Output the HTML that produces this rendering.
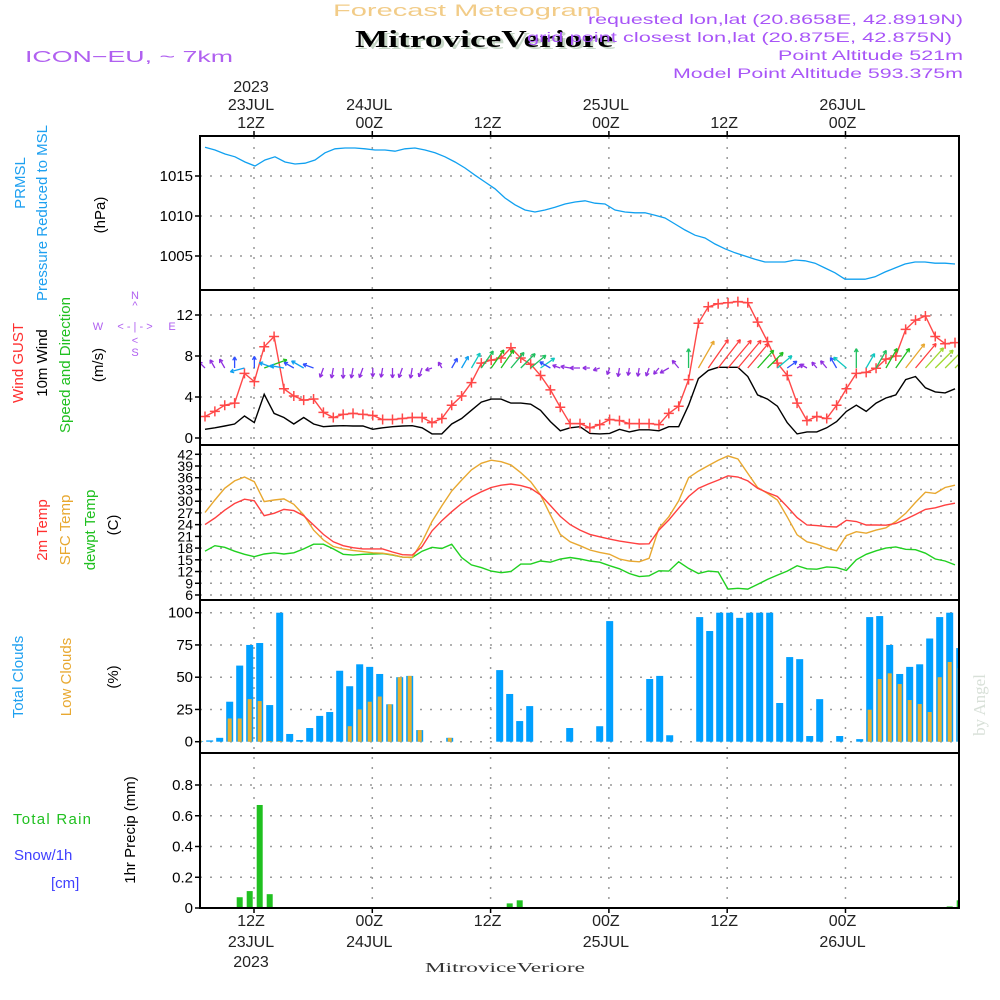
<!DOCTYPE html>
<html><head><meta charset="utf-8"><style>
html,body{margin:0;padding:0;background:#fff;}
svg{display:block;font-family:"Liberation Sans",sans-serif;}
</style></head><body>
<svg id="chart" width="1000" height="1000" viewBox="0 0 1000 1000" xmlns="http://www.w3.org/2000/svg">
<rect width="1000" height="1000" fill="#fff"/>
<text x="333" y="16" font-size="17" fill="#f2cc88" textLength="268" lengthAdjust="spacingAndGlyphs">Forecast Meteogram</text>
<text x="358" y="49" font-size="24" font-weight="bold" font-family="Liberation Serif,serif" fill="#c8d8c8" textLength="258" lengthAdjust="spacingAndGlyphs">MitroviceVeriore</text>
<text x="355" y="47" font-size="24" font-weight="bold" font-family="Liberation Serif,serif" fill="#000" textLength="258" lengthAdjust="spacingAndGlyphs">MitroviceVeriore</text>
<text x="25" y="62" font-size="16" fill="#b060f0" textLength="208" lengthAdjust="spacingAndGlyphs">ICON−EU, ~ 7km</text>
<g fill="#a855f7" font-size="14" text-anchor="end">
<text x="963" y="24" textLength="375" lengthAdjust="spacingAndGlyphs">requested lon,lat (20.8658E, 42.8919N)</text>
<text x="952" y="42" textLength="425" lengthAdjust="spacingAndGlyphs">grid point closest lon,lat (20.875E, 42.875N)</text>
<text x="963" y="60" textLength="185" lengthAdjust="spacingAndGlyphs">Point Altitude 521m</text>
<text x="963" y="78" textLength="290" lengthAdjust="spacingAndGlyphs">Model Point Altitude 593.375m</text>
</g>
<g id="grid"></g>
<g id="marks"></g>
<g id="frames" fill="none" stroke="#000" stroke-width="2">
<rect x="200" y="136" width="759" height="154"/>
<rect x="200" y="290" width="759" height="155"/>
<rect x="200" y="445" width="759" height="155"/>
<rect x="200" y="600" width="759" height="153"/>
<rect x="200" y="753" width="759" height="155"/>
</g>
<g id="axes" font-size="15" fill="#000"></g>
<g font-size="15">
<text transform="translate(25,183) rotate(-90)" text-anchor="middle" fill="#1ea0f0">PRMSL</text>
<text transform="translate(47,213) rotate(-90)" text-anchor="middle" fill="#1ea0f0">Pressure Reduced to MSL</text>
<text transform="translate(105,215) rotate(-90)" text-anchor="middle" fill="#000">(hPa)</text>
<text transform="translate(23,363) rotate(-90)" text-anchor="middle" fill="#ff3030">Wind GUST</text>
<text transform="translate(47,363) rotate(-90)" text-anchor="middle" fill="#000">10m Wind</text>
<text transform="translate(70,365) rotate(-90)" text-anchor="middle" fill="#20c020">Speed and Direction</text>
<text transform="translate(103,365) rotate(-90)" text-anchor="middle" fill="#000">(m/s)</text>
<text transform="translate(47,530) rotate(-90)" text-anchor="middle" fill="#ff3030">2m Temp</text>
<text transform="translate(70,530) rotate(-90)" text-anchor="middle" fill="#e8a830">SFC Temp</text>
<text transform="translate(95,530) rotate(-90)" text-anchor="middle" fill="#20c020">dewpt Temp</text>
<text transform="translate(118,525) rotate(-90)" text-anchor="middle" fill="#000">(C)</text>
<text transform="translate(23,677) rotate(-90)" text-anchor="middle" fill="#1ea0f0">Total Clouds</text>
<text transform="translate(71,677) rotate(-90)" text-anchor="middle" fill="#e8a830">Low Clouds</text>
<text transform="translate(118,677) rotate(-90)" text-anchor="middle" fill="#000">(%)</text>
<text x="13" y="824" fill="#20c020" textLength="78" lengthAdjust="spacing">Total  Rain</text>
<text x="14" y="860" fill="#4040ff">Snow/1h</text>
<text x="51" y="888" fill="#4040ff">[cm]</text>
<text transform="translate(135,830) rotate(-90)" text-anchor="middle" fill="#000">1hr Precip (mm)</text>
</g>
<g fill="#b060f0" font-size="11" text-anchor="middle">
<text x="135" y="299">N</text><text x="135" y="309">^</text>
<text x="135" y="330">&lt; - | - &gt;</text>
<text x="98" y="330">W</text><text x="172" y="330">E</text>
<text x="135" y="344">&lt;</text><text x="135" y="356">S</text>
</g>
<text transform="translate(985,705) rotate(-90)" text-anchor="middle" font-size="17" font-family="Liberation Serif,serif" fill="#d8e0d8">by Angel</text>
<text x="505" y="972" text-anchor="middle" font-size="14" font-family="Liberation Serif,serif" fill="#333" textLength="160" lengthAdjust="spacingAndGlyphs">MitroviceVeriore</text>
</svg>
<script>
const tickHours=[12,24,36,48,60,72];
const tickTop=[["2023","23JUL","12Z"],["","24JUL","00Z"],["","","12Z"],["","25JUL","00Z"],["","","12Z"],["","26JUL","00Z"]];
const tickBottom=[["12Z","23JUL","2023"],["00Z","24JUL",""],["12Z","",""],["00Z","25JUL",""],["12Z","",""],["00Z","26JUL",""]];
const pressure=[1018.6,1018.25,1017.75,1017.4,1016.75,1016.25,1017,1017.4,1016.75,1016.5,1016.6,1017,1017.9,1018.4,1018.5,1018.5,1018.4,1018.25,1018.25,1018.1,1018.4,1018.5,1018.25,1017.9,1017.4,1016.75,1016,1015.1,1014.25,1013.4,1012.25,1011.4,1010.75,1010.5,1010.75,1011.1,1011.5,1011.75,1011.9,1011.6,1011.5,1010.75,1010.5,1010.4,1010.4,1010.1,1009.75,1009,1008.25,1007.6,1007.25,1006.5,1005.9,1005.4,1005,1004.6,1004.25,1004.25,1004.25,1004.5,1004.4,1004.1,1003.5,1002.9,1002.1,1002.1,1002.1,1002.4,1003,1003.5,1004,1004.25,1004.25,1004.1,1004.1,1004];
const pressureTicks=[1005,1010,1015];
const gust=[2.1,2.6,3.2,3.4,6.3,5.5,8.9,9.9,4.8,4.1,3.7,3.8,2.5,2.0,2.3,2.4,2.3,2.2,1.8,1.8,1.9,2.0,2.0,1.5,1.9,3.2,4.1,5.4,7.3,7.6,7.8,8.8,7.8,7.2,6.1,4.7,3.0,1.4,1.4,1.0,1.3,1.8,1.7,1.4,1.4,1.4,1.3,2.4,3.1,5.7,11.2,12.8,13.1,13.2,13.3,13.2,11.3,9.4,7.3,6.1,3.4,1.7,2.1,1.9,3.2,4.8,6.3,6.4,6.8,7.7,8.0,10.6,11.5,11.9,9.9,9.2,9.3];
const wind=[0.85,1.0,1.17,1.37,2.15,1.5,4.26,2.4,2.0,1.37,2.0,1.37,1.1,1.17,1.2,1.17,1.17,0.85,1.0,1.1,1.17,1.2,1.0,0.4,0.4,1.37,1.9,2.7,3.5,3.8,3.8,3.4,3.4,3.3,2.7,1.6,0.7,1.0,1.1,0.45,0.4,0.45,0.85,0.6,0.8,0.8,0.7,1.1,1.1,3.2,5.8,6.6,6.9,6.9,6.9,6.0,4.2,3.8,3.1,1.5,0.4,0.6,0.6,1.0,1.6,2.6,3.2,2.6,3.4,3.9,4.2,5.7,6.0,4.9,4.5,4.4,4.8];
const windDirTo=[315,330,330,0,255,0,70,290,280,300,300,290,200,190,180,190,200,180,190,180,200,190,200,250,330,30,30,30,35,35,35,40,45,50,55,300,290,280,270,270,250,200,190,190,190,200,220,240,320,0,30,35,38,40,40,40,42,45,50,55,60,300,320,320,330,310,0,30,30,30,35,38,40,42,45,45,45];
const windTicks=[0,4,8,12];
const temp2m=[24,25.7,27.7,29.4,30.5,30.1,26.3,26.9,27.9,27.6,26.3,23.9,21.5,19.6,18.6,18.1,17.8,17.8,17.8,17.0,16.3,16.2,18.4,22.4,25,27.3,29.4,31.1,32.4,33.5,34.1,34.4,34,33.3,31.6,28.9,26.1,24,22.6,21.5,20.9,20.3,19.8,19.4,19.05,19.1,22.6,25.2,28.2,31.2,33.3,34.4,35.4,36.5,36.2,35.2,33.3,32.2,31.2,28.6,25.8,23.9,23.75,23.5,23.4,25.1,24.8,23.9,23.9,23.85,24.3,25.4,26.6,27.9,28.3,29,29.5];
const tempSfc=[27.1,30.3,33.3,35.2,36.2,35,29.9,30.3,30.6,29.2,26.5,22.6,20.1,18.4,17.8,17.4,17.1,16.8,16.7,16.3,15.7,15.6,19.6,24.8,28.8,32.6,35.4,38,39.7,40.5,40.1,39.3,37.3,35,31.6,26.5,21.5,19.6,18.6,17.5,16.9,16.4,15.2,14.7,14.5,15.4,23.1,26,30.1,36,37.7,39.1,40.5,41.6,40.8,37.1,33.5,32,30.3,26,21.4,19.6,19,18,17.3,21.2,22.2,21.8,22.6,23.2,24.8,26.9,29.7,32.3,32,33.5,34.1];
const dewpt=[17.2,18.6,18.2,17.2,16.4,15.8,16.5,16.8,16.5,16.8,17.8,19.0,19.0,17.8,16.4,16.2,16.4,16.5,16.6,16.2,15.7,15.6,17.2,18.2,17.9,19,15.6,13.7,13,12.1,11.7,12.0,13.9,13.9,14.7,14.4,15.2,15.6,15.2,14.7,14.4,13.5,12.7,11.5,10.7,10.9,12.2,12.1,14.5,12.8,11.5,12.1,11.9,7.5,7.7,7.5,8.7,10,11.1,12.1,13.5,12.7,12.6,13.2,13.0,12.3,15,16.4,17.3,18,18.3,17.7,17.6,16.7,15.2,14.7,13.7];
const tempTicks=[42,39,36,33,30,27,24,21,18,15,12,9,6];
const totalClouds=[0.5,1,3,31,59,75,76.5,28.4,100,6,1.3,10.6,20,23,55,43,60,58,52.5,29,50,51,9,0,0,3,0,0,0,0,55.5,37,16,27.6,0,0,0,10.6,0,0,12,93.5,0,0,0,48.6,51,5,0,0,96.6,85.8,100,100,96,100,100,100,30,65.6,64,4.4,33,0,4.4,0,2,96.6,97.4,75,52.5,58,60,80,96.6,100,72.6];
const lowClouds=[1,0,0,18,18,33,31.5,0.5,0.5,0,0,0,0,0,0,12,25,31,35,29,50,51,9,0,0,3,0,0,0,0,0,0,0,0,0,0,0,0,0,0,0,0,0,0,0,0,0,0,0,0,0,0,0,0,0,0,0,0,0,0,0,0,0,0,0,0,0,24.8,48.6,53,44.7,32.3,29.2,23,50,61.8,57];
const cloudTicks=[0,25,50,75,100];
const precip=[0,0,0,0,0.07,0.11,0.67,0.09,0,0,0,0,0,0,0,0,0,0,0,0,0,0,0,0,0,0,0,0,0,0,0,0.03,0.05,0,0,0,0,0,0,0,0,0,0,0,0,0,0,0,0,0,0,0,0,0,0,0,0,0,0,0,0,0,0,0,0,0,0,0,0,0,0,0,0,0,0,0.01,0.05];
const precipTicks=[0,0.2,0.4,0.6,0.8];
const precipTickLabels=["0","0.2","0.4","0.6","0.8"];

const NS="http://www.w3.org/2000/svg";
const X0=200,X1=959;
const xTime=h=>254+(h-12)*9.858;
const xLine=(i,n)=>205+i*750/(n-1);
const xBar=k=>199.7+k*10;
const yP=p=>176-(p-1015)*8;
const yW=v=>438-v*10.25;
const yT=t=>454.3+(42-t)*3.908;
const yC=c=>741.7-c*1.29;
const yR=r=>908-r*153.75;
function mk(tag,attrs,parent){const e=document.createElementNS(NS,tag);for(const k in attrs)e.setAttribute(k,attrs[k]);parent.appendChild(e);return e;}
const grid=document.getElementById('grid'),marks=document.getElementById('marks'),axes=document.getElementById('axes');
const gs={stroke:"#999","stroke-width":1.5,"stroke-dasharray":"2,8",fill:"none"};
tickHours.forEach(h=>{const x=xTime(h);
 const l=mk('line',Object.assign({x1:x,x2:x,y1:137,y2:907},gs),grid);
 
 
});
function hgrid(y,name){const l=mk('line',Object.assign({x1:X0,x2:X1,y1:y,y2:y},gs),grid);
 
 }
pressureTicks.forEach(v=>hgrid(yP(v),'pressure-gridline'));
windTicks.forEach(v=>hgrid(yW(v),'wind-gridline'));
tempTicks.forEach(v=>hgrid(yT(v),'temp-gridline'));
cloudTicks.forEach(v=>hgrid(yC(v),'cloud-gridline'));
precipTicks.slice(1).forEach(v=>hgrid(yR(v),'precip-gridline'));
function ylab(y,txt,name,size){const t=mk('text',{x:193,y:y+5,'text-anchor':'end','font-size':size||15},axes);t.textContent=txt;
 
 
 const l=mk('line',{x1:195,x2:200,y1:y,y2:y,stroke:'#000','stroke-width':1.5},axes);
 
 }
pressureTicks.forEach(v=>ylab(yP(v),String(v),'pressure-tick'));
windTicks.forEach(v=>ylab(yW(v),String(v),'wind-tick'));
tempTicks.forEach(v=>ylab(yT(v),String(v),'temp-tick',14));
cloudTicks.forEach(v=>ylab(yC(v),String(v),'cloud-tick'));
precipTicks.forEach((v,i)=>ylab(yR(v),precipTickLabels[i],'precip-tick'));
tickHours.forEach((h,i)=>{const x=xTime(h)-3;
 tickTop[i].forEach((s,j)=>{if(!s)return;const t=mk('text',{x:x,y:[92,110,128][j],'text-anchor':'middle','font-size':16,fill:'#222'},axes);t.textContent=s;
  
  });
 tickBottom[i].forEach((s,j)=>{if(!s)return;const t=mk('text',{x:x,y:[926,947,967][j],'text-anchor':'middle','font-size':16,fill:'#222'},axes);t.textContent=s;
  
  });
 const tk=mk('line',{x1:xTime(h),x2:xTime(h),y1:131,y2:137,stroke:'#000','stroke-width':1.5},axes);
 
 
 const bk=mk('line',{x1:xTime(h),x2:xTime(h),y1:907,y2:913,stroke:'#000','stroke-width':1.5},axes);
 
 
});
const defs=mk('defs',{},document.getElementById('chart'));
const cp=mk('clipPath',{id:'plotclip'},defs);mk('rect',{x:X0,y:136,width:X1-X0,height:772},cp);
marks.setAttribute('clip-path','url(#plotclip)');
function line(arr,yf,color,name,w){const n=arr.length;const p=mk('polyline',{points:arr.map((v,i)=>xLine(i,n).toFixed(1)+','+yf(v).toFixed(1)).join(' '),fill:'none',stroke:color,'stroke-width':w||1.4},marks);
 
 }
totalClouds.forEach((v,k)=>{if(v<=0)return;const r=mk('rect',{x:xBar(k)-3.5,y:yC(v),width:7,height:yC(0)-yC(v),fill:'#00a0ff'},marks);
 
 });
lowClouds.forEach((v,k)=>{if(v<=0)return;const r=mk('rect',{x:xBar(k)-2,y:yC(v),width:4,height:yC(0)-yC(v),fill:'#e8b030'},marks);
 
 });
precip.forEach((v,k)=>{if(v<=0)return;const r=mk('rect',{x:xBar(k)-3,y:yR(v),width:6,height:yR(0)-yR(v),fill:'#20c020'},marks);
 
 });
line(pressure,yP,'#10a0f0','pressure-line',1.3);
line(wind,yW,'#000','wind-speed-line',1.4);
line(gust,yW,'#ff4848','gust-line',1.4);
gust.forEach((v,i)=>{const x=xLine(i,gust.length),y=yW(v);
 const g=mk('path',{d:`M${x-5},${y}H${x+5}M${x},${y-5}V${y+5}`,stroke:'#ff4848','stroke-width':1.5},marks);
 
 });
function wcol(s){if(s<1.3)return'#9030e0';if(s<1.8)return'#3050ff';if(s<2.6)return'#10a0f0';if(s<3.2)return'#10c8c0';if(s<3.7)return'#20c060';if(s<4.3)return'#20c020';if(s<5)return'#a0d830';if(s<6)return'#e8a830';return'#ff4040';}
wind.forEach((s,i)=>{const x=xLine(i,wind.length),y=368,L=4.5*s+5,a=windDirTo[i]*Math.PI/180;
 const dx=Math.sin(a),dy=-Math.cos(a);const ex=x+dx*L,ey=y+dy*L;const h=4;
 const b1=a+Math.PI-0.5,b2=a+Math.PI+0.5;
 const d=`M${x},${y}L${ex},${ey}M${ex},${ey}L${ex+Math.sin(b1)*h},${ey-Math.cos(b1)*h}M${ex},${ey}L${ex+Math.sin(b2)*h},${ey-Math.cos(b2)*h}`;
 const p=mk('path',{d:d,stroke:wcol(s),'stroke-width':1.3,fill:'none'},marks);
 
 });
line(dewpt,yT,'#20d020','dewpoint-line',1.4);
line(tempSfc,yT,'#e8a830','sfc-temp-line',1.4);
line(temp2m,yT,'#ff4040','2m-temp-line',1.4);
mk('line',{x1:X0,x2:X1,y1:yR(0),y2:yR(0),stroke:'#000','stroke-width':1,'stroke-dasharray':'3,2'},marks);
</script>
</body></html>
